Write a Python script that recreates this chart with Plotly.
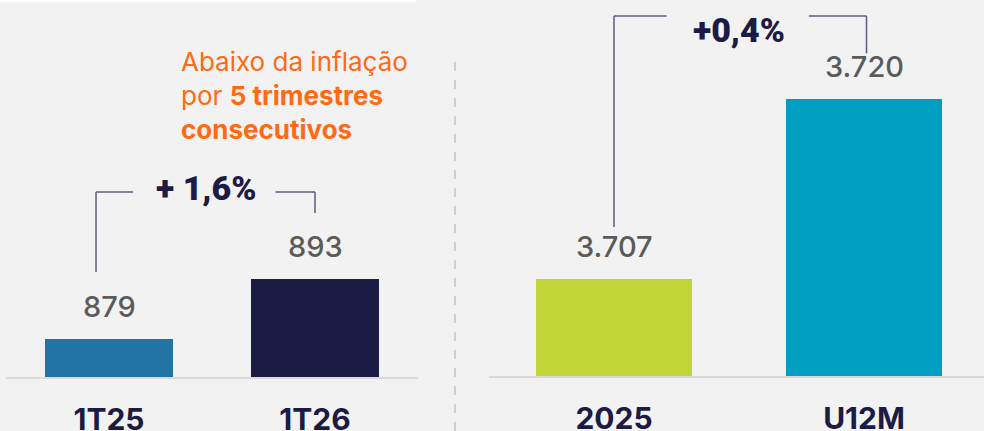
import plotly.graph_objects as go

# ---- data ----
left_cats = ["1T25", "1T26"]
left_vals = [879, 893]
left_labels = ["879", "893"]
left_colors = ["#2274a5", "#1c1b44"]
left_change = "+ 1,6%"

right_cats = ["2025", "U12M"]
right_vals = [3707, 3720]
right_labels = ["3.707", "3.720"]
right_colors = ["#c0d337", "#009fc2"]
right_change = "+0,4%"

note_text = "Abaixo da inflação<br>por <b>5 trimestres</b><br><b>consecutivos</b>"

W, H = 984, 431
BG = "#f2f2f2"
NAVY = "#1c1b44"
GRAY = "#5b5b5b"
LINE = "#5c5b7c"

fig = go.Figure()
fig.add_trace(go.Bar(x=left_cats, y=left_vals, marker=dict(color=left_colors, line_width=0),
                     width=0.62, xaxis="x", yaxis="y", hoverinfo="skip"))
fig.add_trace(go.Bar(x=right_cats, y=right_vals, marker=dict(color=right_colors, line_width=0),
                     width=0.624, xaxis="x2", yaxis="y2", hoverinfo="skip"))

# axis ranges (truncated bases)
l_base, l_top = 870.1, 958.1
r_base, r_top = 3700.0, 3727.15

common_x = dict(type="category", showgrid=False, zeroline=False, showline=True, automargin=False,
                linecolor="#dadada", linewidth=2, ticks="outside", ticklen=15, tickcolor=BG,
                tickfont=dict(family="Inter", size=30, color=NAVY, weight="bold"))
common_y = dict(showgrid=False, zeroline=False, showticklabels=False, showline=False, automargin=False)

fig.update_layout(
    width=W, height=H, margin=dict(l=0, r=0, t=0, b=0, autoexpand=False),
    paper_bgcolor=BG, plot_bgcolor=BG, showlegend=False, bargap=0,
    xaxis=dict(domain=[6 / W, 418 / W], range=[-0.5, 1.5], anchor="y", **common_x),
    yaxis=dict(domain=[(H - 377) / H, 1], range=[l_base, l_top], anchor="x", **common_y),
    xaxis2=dict(domain=[489 / W, 1], range=[-0.5, 1.48], anchor="y2", **common_x),
    yaxis2=dict(domain=[(H - 376) / H, 1], range=[r_base, r_top], anchor="x2", **common_y),
)

ann = []
for i, (v, t) in enumerate(zip(left_vals, left_labels)):
    ann.append(dict(x=i, y=v, xref="x", yref="y", text=t, showarrow=False, yanchor="bottom",
                    yshift=13, font=dict(family="Inter", size=29, color=GRAY, weight=500)))
for i, (v, t) in enumerate(zip(right_vals, right_labels)):
    ann.append(dict(x=i, y=v, xref="x2", yref="y2", text=t, showarrow=False, yanchor="bottom",
                    yshift=13, font=dict(family="Inter", size=29, color=GRAY, weight=500)))

ann.append(dict(x=0.47, y=914.2, xref="x", yref="y", text=left_change, showarrow=False,
                font=dict(family="Roboto", size=34, color=NAVY, weight=900)))
ann.append(dict(x=0.5, y=3725.0, xref="x2", yref="y2", text=right_change, showarrow=False,
                font=dict(family="Roboto", size=34, color=NAVY, weight=900)))

ann.append(dict(x=179 / W, y=1 - 44 / H, xref="paper", yref="paper", text=note_text,
                showarrow=False, xanchor="left", yanchor="top", align="left",
                font=dict(family="Inter", size=26, color="#ff6a13")))
fig.update_layout(annotations=ann)

shapes = []
lw = dict(color=LINE, width=1.5)
# left bracket
shapes.append(dict(type="line", xref="x", yref="y", x0=-0.063, x1=-0.063, y0=894.6, y1=913.3, line=lw))
shapes.append(dict(type="line", xref="x", yref="y", x0=-0.063, x1=0.117, y0=913.3, y1=913.3, line=lw))
shapes.append(dict(type="line", xref="x", yref="y", x0=0.808, x1=1.0, y0=913.3, y1=913.3, line=lw))
shapes.append(dict(type="line", xref="x", yref="y", x0=1.0, x1=1.0, y0=908.4, y1=913.3, line=lw))
# right bracket
shapes.append(dict(type="line", xref="x2", yref="y2", x0=0.0, x1=0.0, y0=3710.76, y1=3726.0, line=lw))
shapes.append(dict(type="line", xref="x2", yref="y2", x0=0.0, x1=0.21, y0=3726.0, y1=3726.0, line=lw))
shapes.append(dict(type="line", xref="x2", yref="y2", x0=0.78, x1=1.01, y0=3726.0, y1=3726.0, line=lw))
shapes.append(dict(type="line", xref="x2", yref="y2", x0=1.01, x1=1.01, y0=3723.3, y1=3726.0, line=lw))
# divider
shapes.append(dict(type="line", xref="paper", yref="paper", x0=455 / W, x1=455 / W, y0=0, y1=1 - 60 / H,
                   line=dict(color="#c4c4c4", width=1.5, dash="dash")))
# top white strip
shapes.append(dict(type="rect", xref="paper", yref="paper", x0=0, x1=416 / W, y0=1 - 2 / H, y1=1,
                   fillcolor="white", line_width=0, layer="above"))
fig.update_layout(shapes=shapes)

fig.write_html("out.html", config={"displayModeBar": False},
               post_script="document.body.style.margin='0';document.body.style.overflow='hidden';")
